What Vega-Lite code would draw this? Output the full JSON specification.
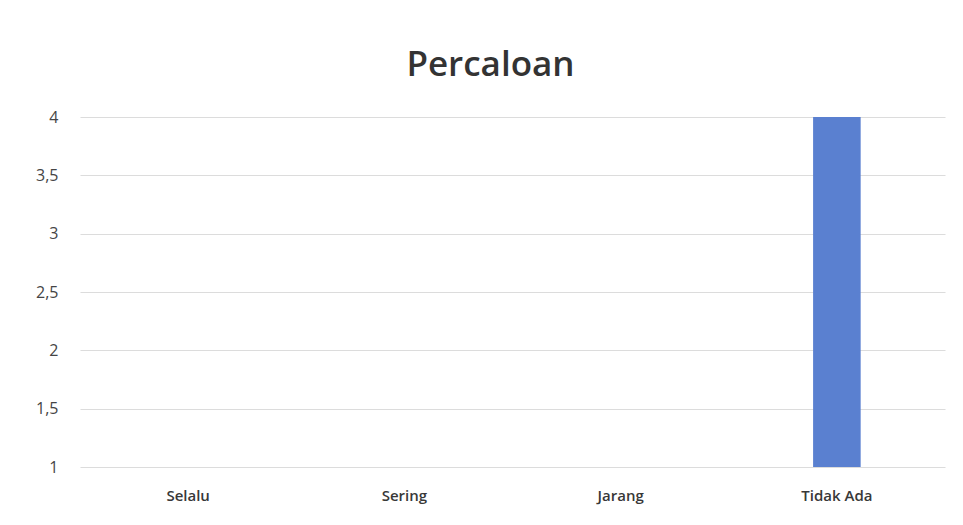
{
  "$schema": "https://vega.github.io/schema/vega-lite/v6.json",
  "autosize": {"type": "none"},
  "padding": {"left": 80, "top": 117, "right": 18, "bottom": 58},
  "width": 865,
  "height": 350,
  "background": "white",
  "title": {
    "text": "Percaloan",
    "font": "Open Sans",
    "fontSize": 35,
    "fontWeight": 600,
    "color": "#333333",
    "anchor": "middle",
    "dx": -22,
    "offset": 26
  },
  "data": {
    "values": [
      {"kategori": "Selalu", "nilai": 0},
      {"kategori": "Sering", "nilai": 0},
      {"kategori": "Jarang", "nilai": 0},
      {"kategori": "Tidak Ada", "nilai": 4}
    ]
  },
  "mark": {"type": "bar", "color": "#5a80d0", "clip": true},
  "encoding": {
    "x": {
      "field": "kategori",
      "type": "nominal",
      "sort": null,
      "scale": {"paddingInner": 0.78, "paddingOuter": 0.39},
      "axis": {
        "title": null,
        "labelAngle": 0,
        "labelFont": "Open Sans",
        "labelFontSize": 15,
        "labelFontWeight": 600,
        "labelColor": "#383838",
        "labelPadding": 21,
        "ticks": false,
        "domain": false,
        "grid": false
      }
    },
    "y": {
      "field": "nilai",
      "type": "quantitative",
      "scale": {"domain": [1, 4], "zero": false, "nice": false},
      "axis": {
        "title": null,
        "values": [1, 1.5, 2, 2.5, 3, 3.5, 4],
        "labelExpr": "replace(format(datum.value, '.1~f'), '.', ',')",
        "labelFont": "Open Sans",
        "labelFontSize": 16,
        "labelColor": "#454545",
        "labelPadding": 22,
        "ticks": false,
        "domain": false,
        "grid": true,
        "gridColor": "#dcdcdc",
        "gridWidth": 1.2
      }
    },
    "y2": {"datum": 0}
  },
  "config": {"view": {"stroke": null}}
}
